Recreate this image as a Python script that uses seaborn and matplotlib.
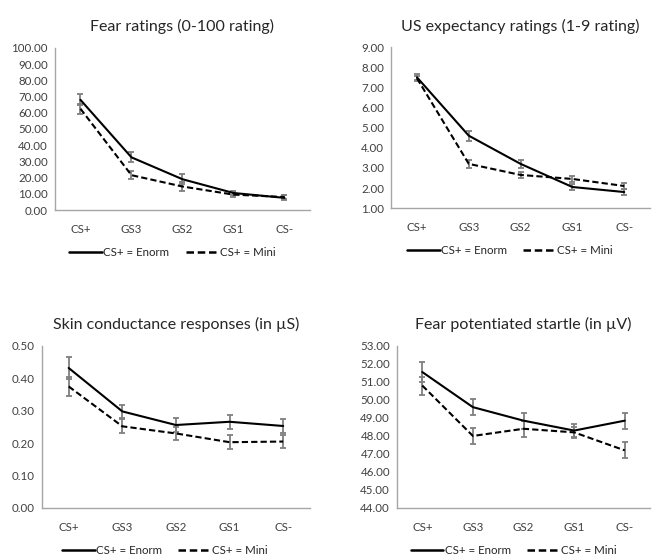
import numpy as np
import pandas as pd
import matplotlib
matplotlib.use("Agg")
import matplotlib.pyplot as plt
import seaborn as sns

# categorie e valori
stimuli = ["CS+", "GS3", "GS2", "GS1", "CS-"]
groups = ["CS+ = Enorm", "CS+ = Mini"]

fear_enorm = [68.0, 32.5, 19.0, 10.5, 7.5]
fear_mini = [62.5, 21.5, 14.5, 9.5, 8.0]
fear_err_enorm = [3.5, 3.0, 3.0, 1.5, 1.5]
fear_err_mini = [3.0, 2.5, 2.5, 1.5, 1.5]

us_enorm = [7.50, 4.60, 3.20, 2.05, 1.80]
us_mini = [7.45, 3.20, 2.65, 2.45, 2.10]
us_err_enorm = [0.15, 0.25, 0.20, 0.15, 0.15]
us_err_mini = [0.12, 0.20, 0.15, 0.15, 0.15]

scr_enorm = [0.432, 0.298, 0.256, 0.266, 0.253]
scr_mini = [0.375, 0.252, 0.230, 0.203, 0.205]
scr_err_enorm = [0.035, 0.021, 0.021, 0.022, 0.021]
scr_err_mini = [0.028, 0.022, 0.020, 0.021, 0.020]

fps_enorm = [51.55, 49.60, 48.85, 48.30, 48.85]
fps_mini = [50.80, 48.00, 48.40, 48.20, 47.20]
fps_err_enorm = [0.55, 0.45, 0.45, 0.35, 0.45]
fps_err_mini = [0.50, 0.45, 0.45, 0.30, 0.45]

sns.set_style("white")
plt.rcParams["font.family"] = ["Lato", "DejaVu Sans"]

fig = plt.figure(figsize=(6.54, 5.55), dpi=100)

panels = [
    ("Fear ratings (0-100 rating)", fear_enorm, fear_mini, fear_err_enorm, fear_err_mini,
     (0, 100), 10, [0.084, 0.6216, 0.39, 0.292]),
    ("US expectancy ratings (1-9 rating)", us_enorm, us_mini, us_err_enorm, us_err_mini,
     (1, 9), 1, [0.598, 0.625, 0.396, 0.290]),
    ("Skin conductance responses (in µS)", scr_enorm, scr_mini, scr_err_enorm, scr_err_mini,
     (0, 0.5), 0.1, [0.064, 0.0847, 0.41, 0.292]),
    ("Fear potentiated startle (in µV)", fps_enorm, fps_mini, fps_err_enorm, fps_err_mini,
     (44, 53), 1, [0.607, 0.0847, 0.387, 0.292]),
]

for title, enorm, mini, err_e, err_m, ylim, step, pos in panels:
    ax = fig.add_axes(pos)
    df = pd.DataFrame({
        "stimulus": stimuli * 2,
        "value": enorm + mini,
        "group": [groups[0]] * 5 + [groups[1]] * 5,
    })
    df["x"] = df["stimulus"].map({s: i for i, s in enumerate(stimuli)})
    # barre di errore grigie
    for vals, errs in [(enorm, err_e), (mini, err_m)]:
        ax.errorbar(range(len(stimuli)), vals, yerr=errs, fmt="none",
                    ecolor="#7f7f7f", elinewidth=1.3, capsize=2.5, capthick=1.3, zorder=2)
    sns.lineplot(data=df, x="x", y="value", style="group", style_order=groups,
                 dashes={groups[0]: "", groups[1]: (3, 1.5)},
                 color="black", linewidth=1.5, ax=ax, zorder=3, legend=True)
    ax.set_xlim(-0.5, 4.5)
    ax.set_ylim(*ylim)
    ax.set_yticks(np.arange(ylim[0], ylim[1] + step / 2, step))
    ax.set_yticklabels(["{:.2f}".format(v) for v in ax.get_yticks()],
                       fontsize=8.3, color="#404040")
    ax.set_xticks(range(len(stimuli)))
    ax.set_xticklabels(stimuli, fontsize=8.3, color="#404040")
    ax.tick_params(axis="x", length=0, pad=10)
    ax.tick_params(axis="y", length=0, pad=5)
    ax.set_xlabel("")
    ax.set_ylabel("")
    ax.set_title(title, fontsize=11.5, color="#262626", pad=12)
    sns.despine(ax=ax)
    for sp in ["left", "bottom"]:
        ax.spines[sp].set_color("#a6a6a6")
        ax.spines[sp].set_linewidth(1.0)
    handles, labels = ax.get_legend_handles_labels()
    for h in handles:
        h.set_linewidth(1.8)
    ax.legend(handles, labels, loc="upper center", bbox_to_anchor=(0.46, -0.23),
              ncol=2, frameon=False, fontsize=8.3, handlelength=2.8,
              columnspacing=1.4, handletextpad=0.15, borderaxespad=0, borderpad=0)

fig.savefig("out.png", dpi=100)
